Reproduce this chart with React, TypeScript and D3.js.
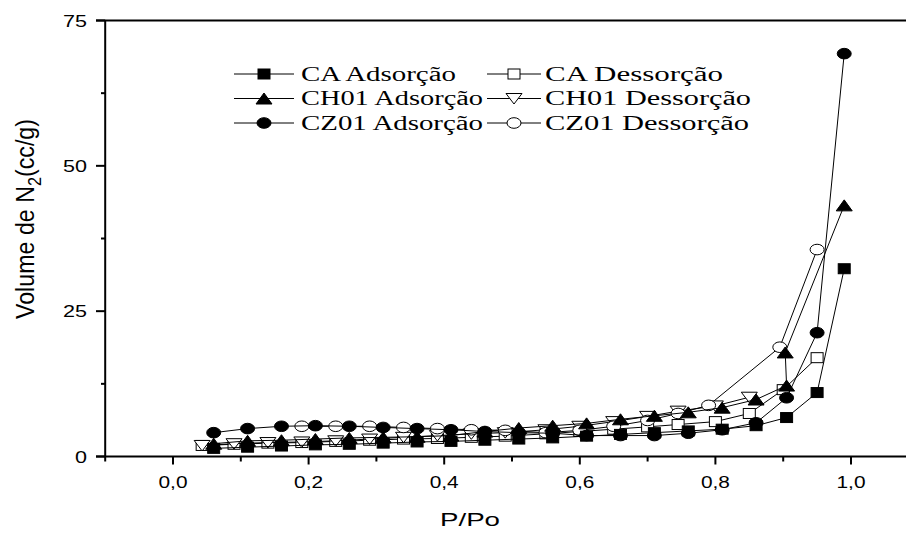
import React from "react";
import * as d3 from "d3";

const adsX = [0.06, 0.11, 0.16, 0.21, 0.26, 0.31, 0.36, 0.41, 0.46, 0.51, 0.56, 0.61, 0.66, 0.71, 0.76, 0.81, 0.86, 0.905, 0.95, 0.99];
const chAdsX = [0.06, 0.11, 0.16, 0.21, 0.26, 0.31, 0.36, 0.41, 0.46, 0.51, 0.56, 0.61, 0.66, 0.71, 0.76, 0.81, 0.86, 0.905, 0.903, 0.99];
const desX = [0.043, 0.09, 0.14, 0.19, 0.24, 0.29, 0.34, 0.39, 0.44, 0.49, 0.55, 0.6, 0.65, 0.7, 0.745, 0.8, 0.85];
const caDesX = [0.043, 0.09, 0.14, 0.19, 0.24, 0.29, 0.34, 0.39, 0.44, 0.49, 0.55, 0.6, 0.65, 0.7, 0.745, 0.8, 0.85, 0.9, 0.95];
const czDesX = [0.19, 0.24, 0.29, 0.34, 0.39, 0.44, 0.49, 0.55, 0.6, 0.65, 0.7, 0.745, 0.79, 0.895, 0.95];

const caAds = [1.4, 1.6, 1.8, 2.0, 2.1, 2.3, 2.5, 2.6, 2.8, 3.0, 3.2, 3.5, 3.8, 4.1, 4.4, 4.7, 5.3, 6.7, 11.0, 32.3];
const caDes = [1.9, 2.1, 2.3, 2.4, 2.6, 2.8, 3.0, 3.1, 3.3, 3.5, 3.9, 4.3, 4.7, 5.1, 5.5, 6.0, 7.4, 11.5, 17.0];
const chAds = [2.2, 2.7, 2.8, 3.0, 3.2, 3.3, 3.4, 3.6, 4.3, 4.9, 5.3, 5.7, 6.4, 7.0, 7.6, 8.4, 9.8, 12.2, 17.9, 43.2];
const chDes = [1.9, 2.2, 2.4, 2.5, 2.7, 3.0, 3.3, 3.6, 3.9, 4.1, 4.6, 5.2, 6.0, 6.9, 7.8, 8.7, 10.2];
const czAds = [4.1, 4.8, 5.2, 5.3, 5.2, 5.0, 4.8, 4.6, 4.3, 4.1, 4.0, 3.6, 3.6, 3.6, 4.0, 4.6, 5.8, 10.1, 21.3, 69.3];
const czDes = [5.2, 5.2, 5.2, 5.0, 4.8, 4.6, 4.5, 4.1, 4.5, 5.2, 6.2, 7.4, 8.8, 18.8, 35.6];

const xTicks = [0, 0.2, 0.4, 0.6, 0.8, 1.0];
const xTickLabels = ["0,0", "0,2", "0,4", "0,6", "0,8", "1,0"];
const xMinor = [-0.1, 0.1, 0.3, 0.5, 0.7, 0.9];
const yTicks = [0, 25, 50, 75];
const yTickLabels = ["0", "25", "50", "75"];
const yMinor = [12.5, 37.5, 62.5];

type Shape = "square" | "triangle" | "triangleDown" | "circle";
interface Series { name: string; xs: number[]; ys: number[]; shape: Shape; filled: boolean; }

const seriesList: Series[] = [
  { name: "CA Dessorção", xs: caDesX, ys: caDes, shape: "square", filled: false },
  { name: "CH01 Dessorção", xs: desX, ys: chDes, shape: "triangleDown", filled: false },
  { name: "CZ01 Dessorção", xs: czDesX, ys: czDes, shape: "circle", filled: false },
  { name: "CA Adsorção", xs: adsX, ys: caAds, shape: "square", filled: true },
  { name: "CH01 Adsorção", xs: chAdsX, ys: chAds, shape: "triangle", filled: true },
  { name: "CZ01 Adsorção", xs: adsX, ys: czAds, shape: "circle", filled: true },
];

const legendRows = [
  [{ name: "CA Adsorção", shape: "square", filled: true, w: 155 }, { name: "CA Dessorção", shape: "square", filled: false, w: 178 }],
  [{ name: "CH01 Adsorção", shape: "triangle", filled: true, w: 182 }, { name: "CH01 Dessorção", shape: "triangleDown", filled: false, w: 206 }],
  [{ name: "CZ01 Adsorção", shape: "circle", filled: true, w: 182 }, { name: "CZ01 Dessorção", shape: "circle", filled: false, w: 204 }],
];

function Marker({ cx, cy, shape, filled }: { cx: number; cy: number; shape: string; filled: boolean }) {
  const fill = filled ? "#000" : "#fff";
  const common = { fill, stroke: "#000", strokeWidth: 1 };
  if (shape === "square") return <rect x={cx - 6} y={cy - 5} width={12} height={10} {...common} />;
  if (shape === "circle") return <ellipse cx={cx} cy={cy} rx={7} ry={5.3} {...common} />;
  if (shape === "triangle") return <path d={`M${cx - 8},${cy + 5.5}L${cx + 8},${cy + 5.5}L${cx},${cy - 5.5}Z`} {...common} />;
  return <path d={`M${cx - 8},${cy - 5}L${cx + 8},${cy - 5}L${cx},${cy + 5.5}Z`} {...common} />;
}

export default function App() {
  const W = 907, H = 533;
  const x = d3.scaleLinear().domain([0, 1]).range([173, 851]);
  const y = d3.scaleLinear().domain([0, 75]).range([456.5, 20.5]);
  const x0 = x(-0.1);
  const xEnd = 906;
  const line = d3.line<[number, number]>().x((d) => x(d[0])).y((d) => y(d[1]));
  const sans = "Arial, 'Liberation Sans', sans-serif";
  const serif = "'Times New Roman', 'Liberation Serif', serif";
  const legendY = [74, 98.5, 123];
  const colLine = [[234, 294], [487, 541]];
  const colText = [301, 545];

  return (
    <svg width={W} height={H} style={{ position: "absolute", left: 0, top: 0, background: "#fff" }}>
      <rect x={0} y={0} width={W} height={H} fill="#fff" />
      {/* axes */}
      <line x1={x0} x2={x0} y1={y(75)} y2={y(0)} stroke="#000" strokeWidth={2} />
      <line x1={96} x2={xEnd} y1={y(0)} y2={y(0)} stroke="#000" strokeWidth={2} />
      <line x1={96} x2={xEnd} y1={y(75)} y2={y(75)} stroke="#000" strokeWidth={2} />
      {yTicks.map((t, i) => (
        <g key={"yt" + t}>
          <line x1={96} x2={x0} y1={y(t)} y2={y(t)} stroke="#000" strokeWidth={2} />
          <text x={87} y={y(t) + 6} textAnchor="end" fontFamily={sans} fontSize={17}
            textLength={yTickLabels[i].length * 12} lengthAdjust="spacingAndGlyphs">{yTickLabels[i]}</text>
        </g>
      ))}
      {yMinor.map((t) => (
        <line key={"ym" + t} x1={101} x2={x0} y1={y(t)} y2={y(t)} stroke="#000" strokeWidth={2} />
      ))}
      {xTicks.map((t, i) => (
        <g key={"xt" + t}>
          <line x1={x(t)} x2={x(t)} y1={y(0)} y2={y(0) + 8} stroke="#000" strokeWidth={2} />
          <text x={x(t)} y={488} textAnchor="middle" fontFamily={sans} fontSize={17}
            textLength={29} lengthAdjust="spacingAndGlyphs">{xTickLabels[i]}</text>
        </g>
      ))}
      {xMinor.map((t) => (
        <line key={"xm" + t} x1={x(t)} x2={x(t)} y1={y(0)} y2={y(0) + 5} stroke="#000" strokeWidth={2} />
      ))}
      <text x={470} y={526} textAnchor="middle" fontFamily={sans} fontSize={19}
        textLength={60} lengthAdjust="spacingAndGlyphs">P/Po</text>
      <text transform={`translate(34,219) scale(1.3,1) rotate(-90)`} textAnchor="middle" fontFamily={sans} fontSize={20}
        textLength={200} lengthAdjust="spacingAndGlyphs">
        Volume de N<tspan fontSize={14} dy={5}>2</tspan><tspan dy={-5}>(cc/g)</tspan>
      </text>
      {/* series */}
      {seriesList.map((s) => {
        const pts: [number, number][] = s.xs.map((v, i) => [v, s.ys[i]]);
        return (
          <g key={s.name}>
            <path d={line(pts) || ""} fill="none" stroke="#000" strokeWidth={1} />
            {pts.map((p, i) => (
              <Marker key={i} cx={x(p[0])} cy={y(p[1])} shape={s.shape} filled={s.filled} />
            ))}
          </g>
        );
      })}
      {/* legend */}
      {legendRows.map((row, r) => (
        <g key={"lr" + r}>
          {row.map((e, c) => {
            const [a, b] = colLine[c];
            const cy = legendY[r];
            return (
              <g key={e.name}>
                <line x1={a} x2={b} y1={cy} y2={cy} stroke="#000" strokeWidth={1} />
                <Marker cx={(a + b) / 2} cy={cy} shape={e.shape} filled={e.filled} />
                <text x={colText[c]} y={cy + 6.5} fontFamily={serif} fontSize={20}
                  textLength={e.w} lengthAdjust="spacingAndGlyphs">{e.name}</text>
              </g>
            );
          })}
        </g>
      ))}
    </svg>
  );
}
